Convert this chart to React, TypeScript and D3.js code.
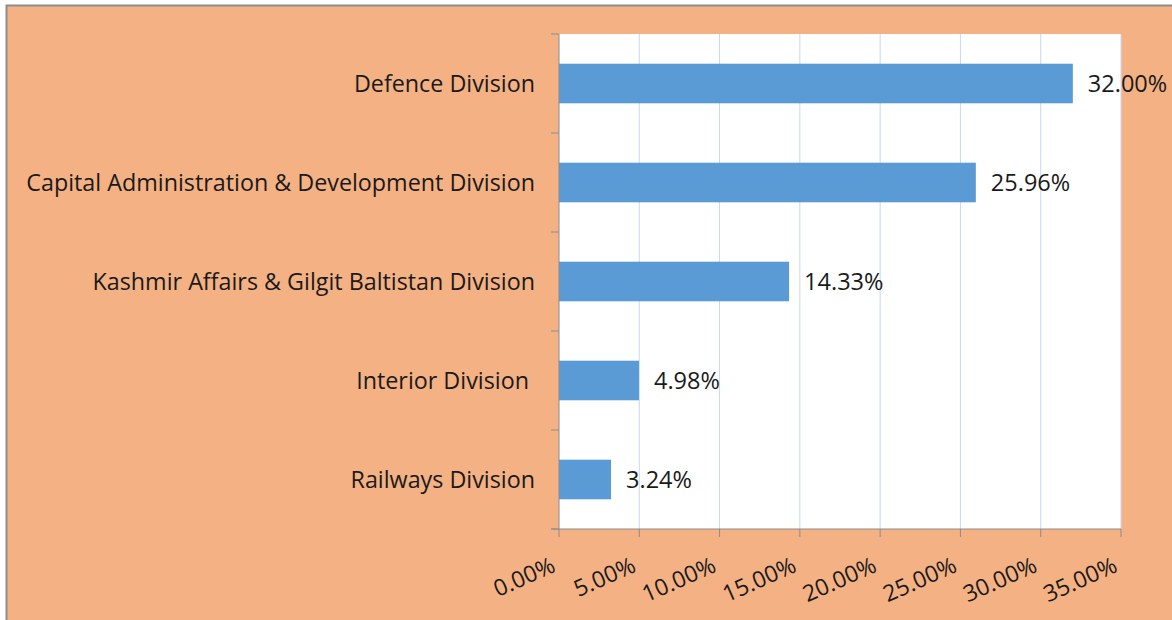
import React from 'react';
import * as d3 from 'd3';

const divisions = [
  'Defence Division',
  'Capital Administration & Development Division',
  'Kashmir Affairs & Gilgit Baltistan Division',
  'Interior Division ',
  'Railways Division',
];
const shares = [32.0, 25.96, 14.33, 4.98, 3.24];
const xTicks = [0, 5, 10, 15, 20, 25, 30, 35];

const width = 1172;
const height = 620;
const plot = { left: 559, right: 1121, top: 34, bottom: 529 };
const font = '"Open Sans", "Noto Sans", sans-serif';

const App: React.FC = () => {
  const x = d3.scaleLinear().domain([0, 35]).range([plot.left, plot.right]);
  const y = d3
    .scaleBand<string>()
    .domain(divisions)
    .range([plot.top, plot.bottom])
    .paddingInner(0.6)
    .paddingOuter(0.3);
  const step = y.step();
  const fmt = (v: number) => `${v.toFixed(2)}%`;

  return (
    <svg
      width={width}
      height={height}
      style={{ position: 'absolute', left: 0, top: 0, fontFamily: font }}
    >
      <rect x={6.5} y={5.5} width={width + 10} height={height + 10} fill="#f4b183" stroke="#8c8c8c" strokeWidth={2} />
      <rect x={plot.left} y={plot.top} width={plot.right - plot.left} height={plot.bottom - plot.top} fill="#ffffff" />

      {/* vertical gridlines */}
      {xTicks.slice(1).map(t => (
        <line key={t} x1={x(t)} x2={x(t)} y1={plot.top} y2={plot.bottom} stroke="#c6d9f1" strokeWidth={1} />
      ))}

      {/* bars */}
      {divisions.map((d, i) => (
        <g key={d}>
          <rect
            x={x(0)}
            y={y(d)}
            width={x(shares[i]) - x(0)}
            height={y.bandwidth()}
            fill="#5b9bd5"
          />
          <text
            x={x(shares[i]) + 15}
            y={(y(d) || 0) + y.bandwidth() / 2}
            dy="0.35em"
            fontSize={23.5}
            fill="#1a1a1a"
          >
            {fmt(shares[i])}
          </text>
          <text
            x={535}
            y={(y(d) || 0) + y.bandwidth() / 2}
            dy="0.35em"
            fontSize={23.3}
            textAnchor="end"
            fill="#1a1a1a"
            style={{ whiteSpace: 'pre' }}
          >
            {d}
          </text>
        </g>
      ))}

      {/* y axis */}
      <line x1={plot.left} x2={plot.left} y1={plot.top} y2={plot.bottom} stroke="#8c8c8c" />
      {d3.range(divisions.length + 1).map(i => (
        <line
          key={i}
          x1={plot.left - 8}
          x2={plot.left}
          y1={plot.top + i * step}
          y2={plot.top + i * step}
          stroke="#8c8c8c"
        />
      ))}

      {/* x axis */}
      <line x1={plot.left - 8} x2={plot.right} y1={plot.bottom} y2={plot.bottom} stroke="#8c8c8c" />
      {xTicks.map(t => (
        <g key={t}>
          <line x1={x(t)} x2={x(t)} y1={plot.bottom} y2={plot.bottom + 8} stroke="#8c8c8c" />
          <text
            transform={`translate(${x(t) - 2},${plot.bottom + 42}) rotate(-24)`}
            textAnchor="end"
            fontSize={23}
            fill="#1a1a1a"
          >
            {fmt(t)}
          </text>
        </g>
      ))}
    </svg>
  );
};

export default App;
